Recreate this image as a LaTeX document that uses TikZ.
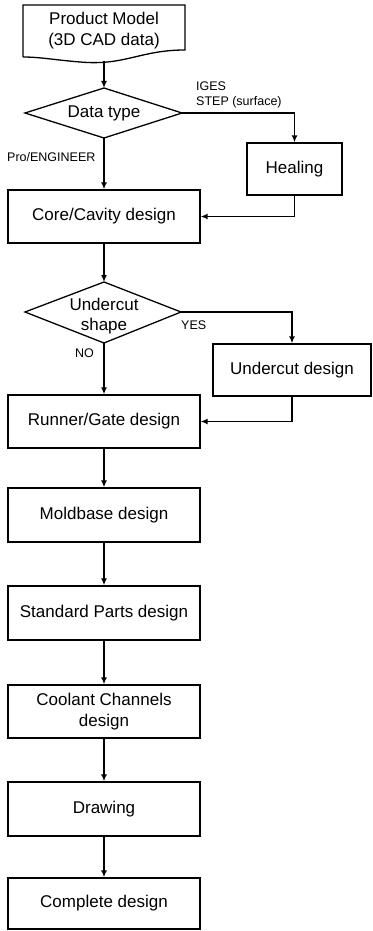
\documentclass[tikz,border=0pt]{standalone}
\usepackage{fontspec}
\setmainfont{Liberation Sans}
\usetikzlibrary{arrows.meta}
\begin{document}
\begin{tikzpicture}[x=1pt,y=-1pt,
  boxnode/.style={draw, line width=1.3pt, rectangle, inner sep=0pt, font=\fontsize{17}{21}\selectfont, align=center},
  txtnode/.style={inner sep=0pt, font=\fontsize{17}{21}\selectfont, align=center},
  shapeline/.style={line width=1.3pt, line join=miter},
  lbl/.style={inner sep=0pt, font=\fontsize{12.5}{15}\selectfont, align=left, anchor=west},
  arr/.style={line width=1.8pt, -{Latex[length=7pt,width=6pt]}}]
\useasboundingbox (0,0) rectangle (372,931);
% document shape
\draw[shapeline] (23,57) -- (23,5) -- (185,5) -- (185,50)
  .. controls (140,50) and (125,66) .. (80,62)
  .. controls (55,60) and (40,57) .. (23,57);
\node[txtnode] (prod) at (104,31) {Product Model\\(3D CAD data)};
\coordinate (prodbot) at (104,61);
% decision: data type
\coordinate (dtN) at (104,88);
\coordinate (dtE) at (182,113);
\coordinate (dtS) at (104,138);
\coordinate (dtW) at (25,113);
\draw[shapeline] (dtN) -- (dtE) -- (dtS) -- (dtW) -- cycle;
\node[txtnode] (dt) at (104,113) {Data type};
% decision: undercut
\coordinate (ucN) at (104,282);
\coordinate (ucE) at (181,312);
\coordinate (ucS) at (104,343);
\coordinate (ucW) at (25,312);
\draw[shapeline] (ucN) -- (ucE) -- (ucS) -- (ucW) -- cycle;
\node[txtnode, font=\fontsize{17}{20.5}\selectfont] (uc) at (104,316) {Undercut\\shape};
% boxes
\node[boxnode, minimum width=95pt, minimum height=52pt] (heal) at (294.5,169) {Healing};
\node[boxnode, minimum width=192pt, minimum height=53pt] (core) at (104,216.5) {Core/Cavity design};
\node[boxnode, minimum width=158pt, minimum height=52pt] (ucd) at (292,370) {Undercut design};
\node[boxnode, minimum width=192pt, minimum height=53pt] (run) at (104,421.5) {Runner/Gate design};
\node[boxnode, minimum width=192pt, minimum height=54pt] (mold) at (104,515) {Moldbase design};
\node[boxnode, minimum width=192pt, minimum height=54pt] (std) at (104,613) {Standard Parts design};
\node[boxnode, minimum width=192pt, minimum height=53pt] (cool) at (104,711.5) {Coolant Channels\\design};
\node[boxnode, minimum width=192pt, minimum height=54pt] (draw) at (104,809) {Drawing};
\node[boxnode, minimum width=192pt, minimum height=51pt] (comp) at (104,903.5) {Complete design};
% labels
\node[lbl] (lblig) at (196,94.5) {IGES\\STEP (surface)};
\node[lbl] (lblpro) at (7,157) {Pro/ENGINEER};
\node[lbl] (lblyes) at (181,325) {YES};
\node[lbl] (lblno) at (75,353) {NO};
% connectors
\draw[arr] (prodbot) -- (dtN);
\draw[arr] (dtE) -| (heal.north);
\draw[arr] (heal.south) |- (core.east);
\draw[arr] (dtS) -- (core.north);
\draw[arr] (core.south) -- (ucN);
\draw[arr] (ucE) -| (ucd.north);
\draw[arr] (ucd.south) |- (run.east);
\draw[arr] (ucS) -- (run.north);
\draw[arr] (run.south) -- (mold.north);
\draw[arr] (mold.south) -- (std.north);
\draw[arr] (std.south) -- (cool.north);
\draw[arr] (cool.south) -- (draw.north);
\draw[arr] (draw.south) -- (comp.north);
\end{tikzpicture}
\end{document}
